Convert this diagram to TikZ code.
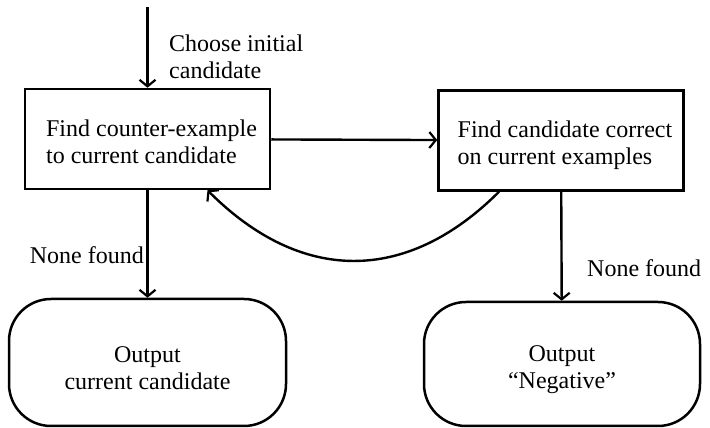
\documentclass[tikz,border=0pt]{standalone}
\usepackage{fontspec}
\setmainfont{Liberation Serif}
\usetikzlibrary{arrows.meta}
\begin{document}
\begin{tikzpicture}[x=1pt,y=1pt,
  every node/.style={font=\fontsize{24}{27}\selectfont},
  proc/.style={draw, line width=2.5pt, minimum width=245pt, minimum height=100pt, inner sep=0pt},
  term/.style={draw, line width=2.5pt, rounded corners=42pt, minimum width=277pt, minimum height=127pt, inner sep=0pt},
  lbl/.style={inner sep=0pt, align=left},
  ctext/.style={inner sep=0pt, align=center},
  conn/.style={line width=2.4pt, -{Straight Barb[length=6.5pt,width=16pt,line width=2.2pt]}}]
\useasboundingbox (0,0) rectangle (710,428);
\node[proc] (find) at (147.5,289) {};
\node[lbl] (findt) at ([xshift=4pt,yshift=-3pt]find.center) {Find counter-example\\to current candidate};
\node[proc] (cand) at (561,287.5) {};
\node[lbl] (candt) at ([xshift=4pt,yshift=-5pt]cand.center) {Find candidate correct\\on current examples};
\node[term] (outc) at (147.5,65.5) {};
\node[ctext] (outct) at ([yshift=-6pt]outc.center) {Output\\current candidate};
\node[term, minimum width=276pt, minimum height=124pt] (outn) at (562,64) {};
\node[ctext] (outnt) at ([yshift=-6pt]outn.center) {Output\\“Negative”};
\coordinate (start) at (147.5,421);
\node[lbl, anchor=west] (choose) at (169,371) {Choose initial\\candidate};
\node[lbl, anchor=east] (nf1) at (144,173) {None found};
\node[lbl, anchor=west] (nf2) at (587,160) {None found};
\draw[conn] (start) -- (find);
\draw[conn] (find) -- (cand);
\draw[conn] (find) -- (outc);
\draw[conn] (cand) -- (outn);
\draw[conn] ([xshift=-62pt]cand.south) .. controls +(-93,-93) and +(93,-93) .. ([xshift=60pt]find.south);
\end{tikzpicture}
\end{document}
